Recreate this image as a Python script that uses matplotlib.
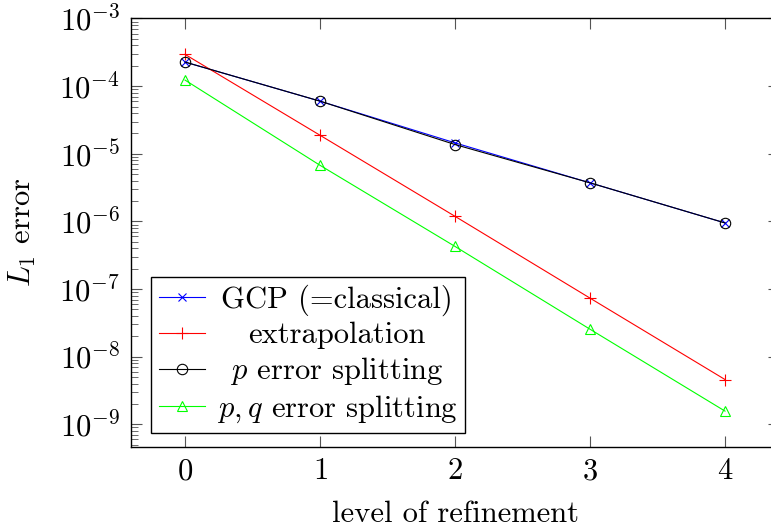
import numpy as np
import matplotlib
matplotlib.use("Agg")
import matplotlib.pyplot as plt
from matplotlib.ticker import LogLocator, NullFormatter

plt.rcParams['font.family'] = 'cmr10'
plt.rcParams['mathtext.fontset'] = 'cm'
plt.rcParams['axes.formatter.use_mathtext'] = True
plt.rcParams['font.size'] = 22

# L1 error per refinement level
levels = [0, 1, 2, 3, 4]
err_gcp = [2.27e-4, 6.0e-5, 1.45e-5, 3.72e-6, 9.5e-7]
err_extrap = [2.95e-4, 1.88e-5, 1.19e-6, 7.35e-8, 4.6e-9]
err_p = [2.27e-4, 6.0e-5, 1.37e-5, 3.72e-6, 9.5e-7]
err_pq = [1.23e-4, 6.76e-6, 4.27e-7, 2.55e-8, 1.57e-9]
yticks = [1e-9, 1e-8, 1e-7, 1e-6, 1e-5, 1e-4, 1e-3]

labels = ["GCP (=classical)", "extrapolation",
          r"$p$ error splitting", r"$p, q$ error splitting"]

fig = plt.figure(figsize=(7.71, 5.30), dpi=100)
ax = fig.add_axes([0.1699, 0.1572, 0.8405, 0.8079])

lw = 0.8
ax.plot(levels, err_gcp, color=(0, 0, 1), marker='x', ms=6, mew=lw, lw=lw, label=labels[0])
ax.plot(levels, err_extrap, color=(1, 0, 0), marker='+', ms=8, mew=lw, lw=lw, label=labels[1])
ax.plot(levels, err_p, color='black', marker='o', ms=7.5, mew=lw, lw=lw, mfc='none', label=labels[2])
ax.plot(levels, err_pq, color=(0, 1, 0), marker='^', ms=7, mew=lw, lw=lw, mfc='none', label=labels[3])

ax.set_yscale('log')
ax.set_xlim(-0.4, 4.4)
ax.set_ylim(10 ** -9.33, 10 ** -3.0)
ax.set_xticks(levels)
ax.set_yticks(yticks)
ax.yaxis.set_minor_locator(LogLocator(base=10, subs=np.arange(2, 10), numticks=100))
ax.yaxis.set_minor_formatter(NullFormatter())

ax.tick_params(which='both', direction='in', top=True, right=True, color='#555555')
ax.tick_params(which='major', length=8, width=0.8, pad=8)
ax.tick_params(which='minor', length=5, width=0.6)
for s in ax.spines.values():
    s.set_linewidth(1.0)

ax.set_xlabel("level of refinement", labelpad=11)
ax.set_ylabel(r"$L_1$ error", labelpad=15)

leg = ax.legend(loc='lower left', bbox_to_anchor=(0.031, 0.033), borderaxespad=0,
                fancybox=False, edgecolor='black', framealpha=1, handlelength=1.5,
                handletextpad=0.4, labelspacing=0.2, borderpad=0.25)
leg.get_frame().set_linewidth(1.0)

# center legend entries within their column
fig.canvas.draw()
texts = leg.get_texts()
widths = [t.get_window_extent().width for t in texts]
wmax = max(widths)
for t, w in zip(texts, widths):
    t.set_x((wmax - w) / 2)

fig.savefig("out.png", dpi=100)
